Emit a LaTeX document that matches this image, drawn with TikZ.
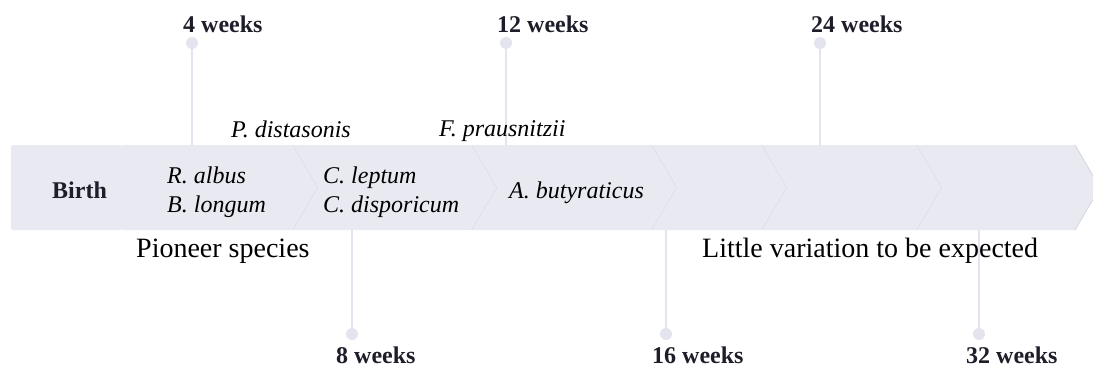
\documentclass[tikz,border=0pt]{standalone}
\usepackage{fontspec}
\setmainfont{Liberation Serif}
\usetikzlibrary{positioning}

\definecolor{bandfill}{RGB}{233,233,242}
\definecolor{bandedge}{RGB}{212,212,222}
\definecolor{tickgray}{RGB}{228,228,238}
\definecolor{labelink}{RGB}{30,30,42}

\tikzset{
  lbl/.style={inner sep=0pt, anchor=base west, font=\fontsize{24}{28}\selectfont},
  weeklbl/.style={lbl, text=labelink, font=\fontsize{24}{28}\selectfont\bfseries},
  species/.style={lbl, font=\fontsize{24}{28}\selectfont\itshape},
  remark/.style={lbl, font=\fontsize{28}{32}\selectfont},
  dot/.style={circle, fill=tickgray, inner sep=0pt, minimum size=12pt},
  tick/.style={draw=tickgray, line width=1.5pt},
}

\begin{document}
\begin{tikzpicture}[x=1pt,y=-1pt]
	\useasboundingbox (0,0) rectangle (1093,369);
	\coordinate (bandtop) at (0,145);
	\coordinate (bandbot) at (0,230);
	
	% time marks above and below the band
	\node[dot] (d4) at (192,43) {};
	\node[dot] (d12) at (506,43) {};
	\node[dot] (d24) at (820,43) {};
	\node[dot] (d8) at (352,334) {};
	\node[dot] (d16) at (666,334) {};
	\node[dot] (d32) at (979,334) {};
	\foreach \d in {d4,d12,d24}
		\draw[tick] (\d.center) -- (\d |- bandtop);
	\foreach \d in {d8,d16,d32}
		\draw[tick] (\d.center) -- (\d |- bandbot);
	
	% the band
	\fill[bandfill, rounded corners=2pt] (11,145) rectangle (122,230);
	\draw[bandedge!60, line width=0.6pt] (122,145) -- (122,230);
	\fill[bandfill] (122,145) -- (293,145) -- (318,187.5) -- (293,230) -- (122,230) -- cycle;
	\draw[bandedge, line width=0.8pt] (293,145) -- (318,187.5) -- (293,230);
	\foreach \a/\b in {293/472, 472/652, 652/762, 762/917, 917/1075} {
		\fill[bandfill] (\a,145) -- (\b,145) -- (\b+25,187.5) -- (\b,230) -- (\a,230) -- (\a+25,187.5) -- cycle;
		\draw[bandedge, line width=0.8pt] (\b,145) -- (\b+25,187.5) -- (\b,230);
	}
	
	\node[weeklbl] (w4) at (183,32.5) {4 weeks};
	\node[weeklbl] (w12) at (497,32.5) {12 weeks};
	\node[weeklbl] (w24) at (811,32.5) {24 weeks};
	\node[weeklbl] (w8) at (336,363) {8 weeks};
	\node[weeklbl] (w16) at (652,363) {16 weeks};
	\node[weeklbl] (w32) at (966,363) {32 weeks};
	
	\node[weeklbl] (birth) at (52,198) {Birth};
	\node[species] (ralbus) at (167,183) {R. albus};
	\node[species] (blongum) at (167,212) {B. longum};
	\node[species] (cleptum) at (323,183) {C. leptum};
	\node[species] (cdispo) at (323,212) {C. disporicum};
	\node[species] (abuty) at (509,198) {A. butyraticus};
	\node[species] (pdist) at (231,137) {P. distasonis};
	\node[species] (fpraus) at (439,136) {F. prausnitzii};
	
	\node[remark] (pioneer) at (136,257) {Pioneer species};
	\node[remark] (little) at (702,257) {Little variation to be expected};
\end{tikzpicture}
\end{document}
